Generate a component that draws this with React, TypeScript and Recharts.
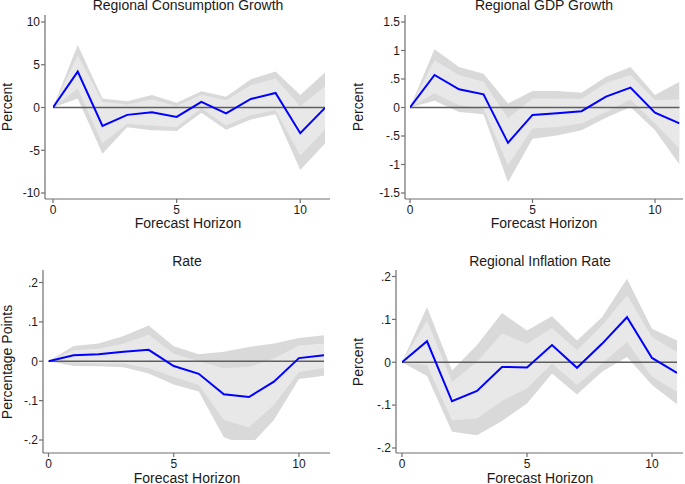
import React from "react";
import {
  ComposedChart,
  Area,
  Line,
  XAxis,
  YAxis,
  ReferenceLine,
} from "recharts";

// ---------- data ----------
const horizon = [0, 1, 2, 3, 4, 5, 6, 7, 8, 9, 10, 11];
const xTicks = [0, 5, 10];

// Regional Consumption Growth
const consMid = [0, 4.2, -2.15, -0.86, -0.55, -1.1, 0.66, -0.7, 1.0, 1.7, -3.0, -0.05];
const consInHi = [0, 6.1, 0.66, 0.35, 0.94, 0.15, 1.5, 0.86, 2.6, 3.4, 0.15, 2.5];
const consInLo = [0, 2.2, -4.2, -1.9, -2.1, -2.3, -0.1, -2.1, -0.9, -0.3, -5.6, -2.6];
const consOutHi = [0, 7.3, 1.05, 0.74, 1.45, 0.55, 1.9, 1.25, 3.3, 4.2, 1.45, 4.1];
const consOutLo = [0, 1.05, -5.4, -2.3, -2.65, -2.75, -0.6, -2.6, -1.4, -0.8, -7.3, -4.2];
const consTicks = [-10, -5, 0, 5, 10];

// Regional GDP Growth
const gdpMid = [0, 0.57, 0.32, 0.23, -0.62, -0.13, -0.1, -0.065, 0.19, 0.35, -0.09, -0.28];
const gdpInHi = [0, 0.83, 0.57, 0.45, -0.19, 0.16, 0.16, 0.15, 0.43, 0.57, 0.13, 0.14];
const gdpInLo = [0, 0.25, 0.04, -0.02, -1.01, -0.37, -0.34, -0.28, -0.08, 0.14, -0.28, -0.72];
const gdpOutHi = [0, 1.02, 0.71, 0.59, 0.07, 0.29, 0.29, 0.26, 0.54, 0.71, 0.22, 0.45];
const gdpOutLo = [0, 0.12, -0.08, -0.12, -1.31, -0.55, -0.49, -0.4, -0.18, 0.01, -0.4, -1.0];
const gdpTicks = [-1.5, -1, -0.5, 0, 0.5, 1, 1.5];

// Rate
const rateMid = [0, 0.015, 0.018, 0.024, 0.029, -0.012, -0.032, -0.084, -0.091, -0.052, 0.008, 0.015];
const rateInHi = [0, 0.028, 0.032, 0.045, 0.067, 0.019, 0.0, -0.018, -0.014, 0.007, 0.04, 0.045];
const rateInLo = [0, -0.003, -0.006, -0.006, -0.018, -0.04, -0.06, -0.149, -0.168, -0.111, -0.027, -0.017];
const rateOutHi = [0, 0.039, 0.045, 0.064, 0.091, 0.038, 0.018, 0.024, 0.036, 0.045, 0.059, 0.066];
const rateOutLo = [0, -0.012, -0.013, -0.015, -0.031, -0.059, -0.077, -0.193, -0.217, -0.149, -0.045, -0.037];
const rateTicks = [-0.2, -0.1, 0, 0.1, 0.2];

// Regional Inflation Rate
const inflMid = [0, 0.049, -0.091, -0.067, -0.011, -0.012, 0.04, -0.013, 0.043, 0.105, 0.01, -0.025];
const inflInHi = [0, 0.098, -0.046, 0.001, 0.067, 0.043, 0.08, 0.028, 0.086, 0.156, 0.059, 0.024];
const inflInLo = [0, -0.007, -0.135, -0.131, -0.09, -0.061, -0.003, -0.053, -0.003, 0.047, -0.034, -0.069];
const inflOutHi = [0, 0.129, -0.019, 0.04, 0.115, 0.074, 0.107, 0.051, 0.105, 0.195, 0.078, 0.051];
const inflOutLo = [0, -0.032, -0.162, -0.17, -0.137, -0.096, -0.026, -0.075, -0.022, 0.012, -0.053, -0.098];
const inflTicks = [-0.2, -0.1, 0, 0.1, 0.2];

// ---------- helpers ----------
const FONT = "'Liberation Sans', Arial, Helvetica, sans-serif";
const AXIS = "#6f6f6f";
const TEXT = "#1a1a1a";

const build = (mid: number[], inLo: number[], inHi: number[], outLo: number[], outHi: number[]) =>
  horizon.map((h, i) => ({
    h,
    mid: mid[i],
    inner: [inLo[i], inHi[i]],
    outer: [outLo[i], outHi[i]],
  }));

const stata = (v: number) => {
  const s = String(Math.round(v * 1000) / 1000);
  return s.replace(/^(-?)0\./, "$1.");
};

type PanelCfg = {
  key: string;
  data: any[];
  yTicks: number[];
  box: { left: number; top: number; w: number; h: number };
  plot: { left: number; right: number; top: number; bottom: number };
  xPad: { left: number; right: number };
  yPad: { top: number; bottom: number };
  title: string;
  ylabel: string;
  titleX: number;
  titleY: number;
  xlabY: number;
  ylabX: number;
  ylabY: number;
};

const panels: PanelCfg[] = [
  {
    key: "cons",
    data: build(consMid, consInLo, consInHi, consOutLo, consOutHi),
    yTicks: consTicks,
    box: { left: 0, top: 0, w: 340, h: 240 },
    plot: { left: 45, right: 330, top: 15, bottom: 199 },
    xPad: { left: 8, right: 5 },
    yPad: { top: 7, bottom: 6 },
    title: "Regional Consumption Growth",
    ylabel: "Percent",
    titleX: 188,
    titleY: 10,
    xlabY: 228,
    ylabX: 12,
    ylabY: 107,
  },
  {
    key: "gdp",
    data: build(gdpMid, gdpInLo, gdpInHi, gdpOutLo, gdpOutHi),
    yTicks: gdpTicks,
    box: { left: 345, top: 0, w: 340, h: 240 },
    plot: { left: 405, right: 683, top: 15, bottom: 199 },
    xPad: { left: 5, right: 3.5 },
    yPad: { top: 7, bottom: 6 },
    title: "Regional GDP Growth",
    ylabel: "Percent",
    titleX: 544,
    titleY: 10,
    xlabY: 228,
    ylabX: 363,
    ylabY: 107,
  },
  {
    key: "rate",
    data: build(rateMid, rateInLo, rateInHi, rateOutLo, rateOutHi),
    yTicks: rateTicks,
    box: { left: 0, top: 245, w: 340, h: 239 },
    plot: { left: 43, right: 330, top: 270, bottom: 453 },
    xPad: { left: 5.5, right: 6 },
    yPad: { top: 12.5, bottom: 13 },
    title: "Rate",
    ylabel: "Percentage Points",
    titleX: 187,
    titleY: 266,
    xlabY: 483,
    ylabX: 12,
    ylabY: 362,
  },
  {
    key: "infl",
    data: build(inflMid, inflInLo, inflInHi, inflOutLo, inflOutHi),
    yTicks: inflTicks,
    box: { left: 345, top: 245, w: 340, h: 239 },
    plot: { left: 396, right: 683, top: 270, bottom: 453 },
    xPad: { left: 6, right: 6 },
    yPad: { top: 6.5, bottom: 5 },
    title: "Regional Inflation Rate",
    ylabel: "Percent",
    titleX: 540,
    titleY: 266,
    xlabY: 483,
    ylabX: 363,
    ylabY: 362,
  },
];

const X_AXIS_H = 20;

function Panel({ p }: { p: PanelCfg }) {
  const { box, plot } = p;
  const margin = {
    top: plot.top - box.top,
    right: box.left + box.w - plot.right,
    left: 0,
    bottom: box.top + box.h - plot.bottom - X_AXIS_H,
  };
  const yMin = p.yTicks[0];
  const yMax = p.yTicks[p.yTicks.length - 1];
  const tickStyle = { fontSize: 12, fill: TEXT, fontFamily: FONT };
  return (
    <div style={{ position: "absolute", left: box.left, top: box.top, width: box.w, height: box.h }}>
      <ComposedChart width={box.w} height={box.h} data={p.data} margin={margin}>
        <XAxis
          dataKey="h"
          type="number"
          domain={[0, 11]}
          ticks={xTicks}
          padding={p.xPad}
          height={X_AXIS_H}
          stroke={AXIS}
          strokeWidth={1.2}
          tickSize={4}
          tickMargin={2}
          tick={tickStyle}
          tickLine={{ stroke: AXIS }}
          interval={0}
          allowDataOverflow
        />
        <YAxis
          type="number"
          domain={[yMin, yMax]}
          ticks={p.yTicks}
          padding={p.yPad}
          width={plot.left - box.left}
          stroke={AXIS}
          strokeWidth={1.2}
          tickSize={4}
          tickMargin={1}
          tick={tickStyle}
          tickLine={{ stroke: AXIS }}
          tickFormatter={stata}
          interval={0}
          allowDataOverflow
        />
        <Area
          type="linear"
          dataKey="outer"
          stroke="none"
          fill="#d9d9d9"
          fillOpacity={1}
          isAnimationActive={false}
          dot={false}
          activeDot={false}
        />
        <Area
          type="linear"
          dataKey="inner"
          stroke="none"
          fill="#e8e8e8"
          fillOpacity={1}
          isAnimationActive={false}
          dot={false}
          activeDot={false}
        />
        <ReferenceLine
          segment={[
            { x: 0, y: 0 },
            { x: 11, y: 0 },
          ]}
          stroke="#5e5e5e"
          strokeWidth={1.3}
        />
        <Line
          type="linear"
          dataKey="mid"
          stroke="#0000ff"
          strokeWidth={2}
          dot={false}
          activeDot={false}
          isAnimationActive={false}
        />
      </ComposedChart>
    </div>
  );
}

export default function App() {
  return (
    <div
      style={{
        position: "absolute",
        left: 0,
        top: 0,
        width: 685,
        height: 484,
        background: "#ffffff",
        overflow: "hidden",
        fontFamily: FONT,
      }}
    >
      {panels.map((p) => (
        <Panel key={p.key} p={p} />
      ))}
      <svg
        width={685}
        height={484}
        style={{ position: "absolute", left: 0, top: 0, pointerEvents: "none" }}
      >
        {panels.map((p) => (
          <g key={p.key} fontFamily={FONT} fontSize={14} fill={TEXT}>
            <text x={p.titleX} y={p.titleY} textAnchor="middle">
              {p.title}
            </text>
            <text x={p.titleX} y={p.xlabY} textAnchor="middle">
              Forecast Horizon
            </text>
            <text transform={`translate(${p.ylabX},${p.ylabY}) rotate(-90)`} textAnchor="middle">
              {p.ylabel}
            </text>
          </g>
        ))}
      </svg>
    </div>
  );
}
